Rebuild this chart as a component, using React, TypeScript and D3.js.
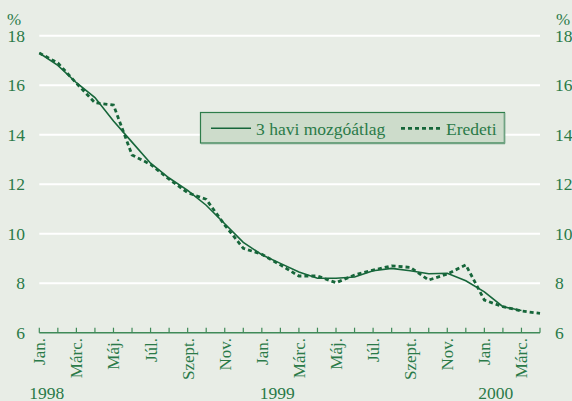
import React, { useEffect, useRef } from "react";
import * as d3 from "d3";

// months Jan 1998 .. Apr 2000
const monthLabels = [
  "Jan.", "", "Márc.", "", "Máj.", "", "Júl.", "", "Szept.", "", "Nov.", "",
  "Jan.", "", "Márc.", "", "Máj.", "", "Júl.", "", "Szept.", "", "Nov.", "",
  "Jan.", "", "Márc.", "",
];
const years = [
  { label: "1998", month: 0, dx: -10 },
  { label: "1999", month: 12, dx: -2 },
  { label: "2000", month: 24, dx: -6 },
];
const eredeti = [
  17.3, 16.9, 16.08, 15.29, 15.2, 13.18, 12.8, 12.2, 11.66, 11.39, 10.35, 9.41,
  9.17, 8.74, 8.29, 8.29, 8.02, 8.33, 8.53, 8.7, 8.64, 8.13, 8.37, 8.74,
  7.32, 7.05, 6.88, 6.78,
];
const atlag = [
  17.3, 16.8, 16.1, 15.5, 14.55, 13.7, 12.85, 12.25, 11.75, 11.15, 10.4, 9.65,
  9.15, 8.8, 8.45, 8.2, 8.2, 8.25, 8.5, 8.6, 8.5, 8.38, 8.4, 8.1,
  7.65, 7.05, 6.9,
];
const yTicks = [6, 8, 10, 12, 14, 16, 18];

export default function App() {
  const svgRef = useRef(null);

  useEffect(() => {
    const width = 572;
    const height = 401;
    const svg = d3.select(svgRef.current);
    svg.selectAll("*").remove();
    svg.attr("width", width).attr("height", height);

    const textColor = "#2a7a48";
    const lineColor = "#16663a";
    const font = "Liberation Serif, Times New Roman, Times, serif";

    svg.append("rect").attr("width", width).attr("height", height).attr("fill", "#e8ede6");

    const x = d3.scaleLinear().domain([0, 27]).range([39.3, 540]);
    const y = d3.scaleLinear().domain([6, 18]).range([332.7, 35.7]);

    // gridlines
    svg
      .append("g")
      .selectAll("line")
      .data(yTicks.filter((d) => d > 6))
      .join("line")
      .attr("x1", x(0))
      .attr("x2", x(27))
      .attr("y1", (d) => y(d))
      .attr("y2", (d) => y(d))
      .attr("stroke", "#ffffff")
      .attr("stroke-width", 2);

    // left and right tick labels
    [
      { xp: 25, anchor: "end" },
      { xp: 555, anchor: "start" },
    ].forEach(({ xp, anchor }) => {
      svg
        .append("g")
        .selectAll("text")
        .data(yTicks)
        .join("text")
        .attr("x", xp)
        .attr("y", (d) => y(d) + 6)
        .attr("text-anchor", anchor)
        .attr("fill", textColor)
        .attr("font-family", font)
        .attr("font-size", 17.5)
        .text((d) => d);
      svg
        .append("text")
        .attr("x", anchor === "end" ? 14 : 563)
        .attr("y", 25)
        .attr("text-anchor", "middle")
        .attr("fill", textColor)
        .attr("font-family", font)
        .attr("font-size", 17)
        .text("%");
    });

    // x axis
    svg
      .append("line")
      .attr("x1", x(0))
      .attr("x2", x(27))
      .attr("y1", y(6))
      .attr("y2", y(6))
      .attr("stroke", "#3f8a58")
      .attr("stroke-width", 1.5);
    svg
      .append("g")
      .selectAll("line")
      .data(d3.range(28))
      .join("line")
      .attr("x1", (d) => x(d))
      .attr("x2", (d) => x(d))
      .attr("y1", y(6))
      .attr("y2", y(6) - 5)
      .attr("stroke", "#3f8a58")
      .attr("stroke-width", 1.2);

    svg
      .append("g")
      .selectAll("text")
      .data(monthLabels.map((l, i) => ({ l, i })).filter((d) => d.l))
      .join("text")
      .attr("transform", (d) => `translate(${x(d.i)},338) rotate(-90)`)
      .attr("dy", "0.35em")
      .attr("text-anchor", "end")
      .attr("fill", textColor)
      .attr("font-family", font)
      .attr("font-size", 17)
      .text((d) => d.l);

    svg
      .append("g")
      .selectAll("text")
      .data(years)
      .join("text")
      .attr("x", (d) => x(d.month) + d.dx)
      .attr("y", 399)
      .attr("fill", textColor)
      .attr("font-family", font)
      .attr("font-size", 17.5)
      .text((d) => d.label);

    // lines
    const line = d3
      .line<number>()
      .x((d, i) => x(i))
      .y((d) => y(d));

    svg
      .append("path")
      .datum(eredeti)
      .attr("d", line)
      .attr("fill", "none")
      .attr("stroke", lineColor)
      .attr("stroke-width", 2.8)
      .attr("stroke-dasharray", "4,3");

    svg
      .append("path")
      .datum(atlag)
      .attr("d", line)
      .attr("fill", "none")
      .attr("stroke", lineColor)
      .attr("stroke-width", 1.6);

    // legend
    const lg = svg.append("g");
    lg.append("rect")
      .attr("x", 200.5)
      .attr("y", 112.5)
      .attr("width", 304)
      .attr("height", 30.5)
      .attr("fill", "#cddccb")
      .attr("stroke", "#2e7d4a")
      .attr("stroke-width", 1.2);
    lg.append("line")
      .attr("x1", 504.5)
      .attr("x2", 504.5)
      .attr("y1", 113)
      .attr("y2", 143.5)
      .attr("stroke", "#6fa282")
      .attr("stroke-width", 1.5);
    lg.append("line")
      .attr("x1", 201)
      .attr("x2", 505)
      .attr("y1", 143.5)
      .attr("y2", 143.5)
      .attr("stroke", "#6fa282")
      .attr("stroke-width", 1.5);
    lg.append("line")
      .attr("x1", 211)
      .attr("x2", 251)
      .attr("y1", 128.3)
      .attr("y2", 128.3)
      .attr("stroke", lineColor)
      .attr("stroke-width", 1.6);
    lg.append("text")
      .attr("x", 256)
      .attr("y", 134.5)
      .attr("fill", textColor)
      .attr("font-family", font)
      .attr("font-size", 17.5)
      .text("3 havi mozgóátlag");
    lg.append("line")
      .attr("x1", 401)
      .attr("x2", 443)
      .attr("y1", 128.3)
      .attr("y2", 128.3)
      .attr("stroke", lineColor)
      .attr("stroke-width", 2.8)
      .attr("stroke-dasharray", "4,3");
    lg.append("text")
      .attr("x", 446)
      .attr("y", 134.5)
      .attr("fill", textColor)
      .attr("font-family", font)
      .attr("font-size", 17.5)
      .text("Eredeti");
  }, []);

  return <svg ref={svgRef} style={{ position: "absolute", left: 0, top: 0, display: "block" }}></svg>;
}
